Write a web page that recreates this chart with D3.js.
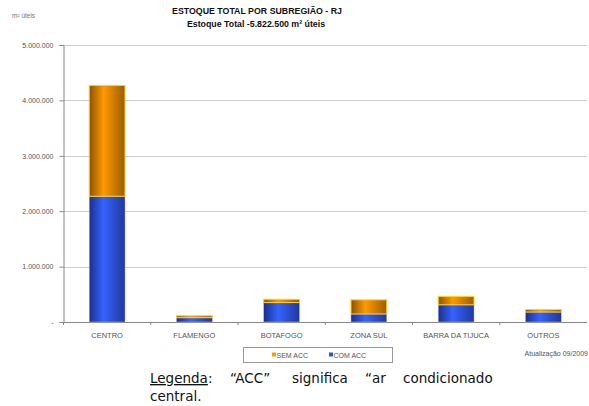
<!DOCTYPE html>
<html>
<head>
<meta charset="utf-8">
<script src="https://cdn.jsdelivr.net/npm/d3@7"></script>
<style>
  body { margin: 0; background: #fff; }
  svg { display: block; }
</style>
</head>
<body>
<div id="chart"></div>
<script>
var categories = ["CENTRO", "FLAMENGO", "BOTAFOGO", "ZONA SUL", "BARRA DA TIJUCA", "OUTROS"]
var comAcc = [2270000, 77000, 350000, 145000, 310000, 180000]
var semAcc = [2000000, 36000, 60000, 255000, 150000, 45000]
var yTicks = [0, 1000000, 2000000, 3000000, 4000000, 5000000]
var seriesNames = ["SEM ACC", "COM ACC"]

var W = 589, H = 406
var plotL = 63.5, plotR = 587, plotT = 45, plotB = 322

var svg = d3.select("#chart").append("svg")
  .attr("width", W).attr("height", H)

// gradients for the cylinder look
var defs = svg.append("defs")
function grad(id, edge, mid, edge2){
  var g = defs.append("linearGradient").attr("id", id)
    .attr("x1", "0%").attr("x2", "100%").attr("y1", "0%").attr("y2", "0%")
  g.append("stop").attr("offset", "0%").attr("stop-color", edge)
  g.append("stop").attr("offset", "40%").attr("stop-color", mid)
  g.append("stop").attr("offset", "100%").attr("stop-color", edge2)
}
grad("gBlue", "#1c2f8c", "#3463ff", "#22389c")
grad("gOrange", "#8c5200", "#ff9a00", "#9c5c00")

var x = d3.scaleBand()
  .domain(categories)
  .range([plotL, plotR])
  .paddingInner(0.59)
  .paddingOuter(0.295)

var y = d3.scaleLinear()
  .domain([0, 5000000])
  .range([plotB, plotT])

var fmt = function(v){
  if (v === 0) return "-"
  return d3.format(",")(v).replace(/,/g, ".")
}

// gridlines
svg.append("g").selectAll("line")
  .data(yTicks.filter(function(d){ return d > 0 }))
  .enter().append("line")
  .attr("x1", plotL).attr("x2", plotR)
  .attr("y1", function(d){ return Math.round(y(d)) + 0.5 })
  .attr("y2", function(d){ return Math.round(y(d)) + 0.5 })
  .attr("stroke", "#9a9a9a")
  .attr("stroke-dasharray", "1,1")

// y axis
var yAxis = svg.append("g")
  .attr("transform", "translate(" + plotL + ",0)")
  .call(d3.axisLeft(y).tickValues(yTicks).tickFormat(fmt).tickSize(4).tickPadding(6))
yAxis.select(".domain").attr("stroke", "#888")
yAxis.selectAll(".tick line").attr("stroke", "#888")
yAxis.selectAll("text")
  .attr("fill", "#555")
  .style("font-family", "'Liberation Sans', Arial, sans-serif")
  .style("font-size", "7px")

// x axis line with ticks between categories
svg.append("line")
  .attr("x1", plotL).attr("x2", plotR)
  .attr("y1", plotB + 0.5).attr("y2", plotB + 0.5)
  .attr("stroke", "#888")
var step = x.step()
svg.append("g").selectAll("line")
  .data(categories)
  .enter().append("line")
  .attr("x1", function(d){ return x(d) - step * x.paddingInner() / 2 })
  .attr("x2", function(d){ return x(d) - step * x.paddingInner() / 2 })
  .attr("y1", plotB).attr("y2", plotB + 3)
  .attr("stroke", "#888")

svg.append("g").selectAll("text")
  .data(categories)
  .enter().append("text")
  .attr("x", function(d){ return x(d) + x.bandwidth() / 2 })
  .attr("y", 338)
  .attr("text-anchor", "middle")
  .attr("fill", "#555")
  .style("font-family", "'Liberation Sans', Arial, sans-serif")
  .style("font-size", "7.5px")
  .text(function(d){ return d })

// stacked bars
var bars = svg.append("g")
bars.selectAll(".com")
  .data(categories)
  .enter().append("rect")
  .attr("class", "com")
  .attr("x", function(d){ return x(d) })
  .attr("width", x.bandwidth())
  .attr("y", function(d, i){ return y(comAcc[i]) })
  .attr("height", function(d, i){ return y(0) - y(comAcc[i]) })
  .attr("fill", "url(#gBlue)")
  .attr("stroke", "#9fb4ff")
  .attr("stroke-width", 0.5)
bars.selectAll(".sem")
  .data(categories)
  .enter().append("rect")
  .attr("class", "sem")
  .attr("x", function(d){ return x(d) })
  .attr("width", x.bandwidth())
  .attr("y", function(d, i){ return y(comAcc[i] + semAcc[i]) })
  .attr("height", function(d, i){ return y(comAcc[i]) - y(comAcc[i] + semAcc[i]) })
  .attr("fill", "url(#gOrange)")
  .attr("stroke", "#ffd21e")
  .attr("stroke-width", 1)

// titles
svg.append("text")
  .attr("x", 257).attr("y", 14)
  .attr("text-anchor", "middle")
  .style("font-family", "'Liberation Sans', Arial, sans-serif")
  .style("font-size", "8.8px").style("font-weight", "bold")
  .attr("fill", "#111")
  .text("ESTOQUE TOTAL POR SUBREGIÃO - RJ")
svg.append("text")
  .attr("x", 256).attr("y", 27)
  .attr("text-anchor", "middle")
  .style("font-family", "'Liberation Sans', Arial, sans-serif")
  .style("font-size", "8.8px").style("font-weight", "bold")
  .attr("fill", "#111")
  .text("Estoque Total -5.822.500 m² úteis")
svg.append("text")
  .attr("x", 12).attr("y", 18)
  .style("font-family", "'Liberation Sans', Arial, sans-serif")
  .style("font-size", "6.5px")
  .attr("fill", "#777")
  .text("m² úteis")

// legend
svg.append("rect")
  .attr("x", 243.5).attr("y", 347.5).attr("width", 149).attr("height", 15)
  .attr("fill", "#fff").attr("stroke", "#999")
var legColors = ["#f5a000", "#2f55e0"]
var legX = [272, 329]
seriesNames.forEach(function(name, i){
  svg.append("rect")
    .attr("x", legX[i]).attr("y", 352.5).attr("width", 4).attr("height", 4)
    .attr("fill", legColors[i])
  svg.append("text")
    .attr("x", legX[i] + 4.5).attr("y", 357.5)
    .style("font-family", "'Liberation Sans', Arial, sans-serif")
    .style("font-size", "7px")
    .attr("fill", "#555")
    .text(name)
})
svg.append("text")
  .attr("x", 588).attr("y", 356)
  .attr("text-anchor", "end")
  .style("font-family", "'Liberation Sans', Arial, sans-serif")
  .style("font-size", "7px")
  .attr("fill", "#555")
  .text("Atualização 09/2009")

// caption below the chart, justified by hand
var capFont = "'DejaVu Sans', Verdana, sans-serif"
var first = svg.append("text")
  .attr("x", 150).attr("y", 383)
  .style("font-family", capFont)
  .style("font-size", "13.5px")
  .attr("fill", "#111")
first.append("tspan").style("text-decoration", "underline").text("Legenda")
first.append("tspan").text(":")
var words = [
  {t: "“ACC”", x: 230},
  {t: "significa", x: 292},
  {t: "“ar", x: 365},
  {t: "condicionado", x: 403}
]
words.forEach(function(w){
  svg.append("text")
    .attr("x", w.x).attr("y", 383)
    .style("font-family", capFont)
    .style("font-size", "13.5px")
    .attr("fill", "#111")
    .text(w.t)
})
svg.append("text")
  .attr("x", 150).attr("y", 401)
  .style("font-family", capFont)
  .style("font-size", "13.5px")
  .attr("fill", "#111")
  .text("central.")
</script>
</body>
</html>
